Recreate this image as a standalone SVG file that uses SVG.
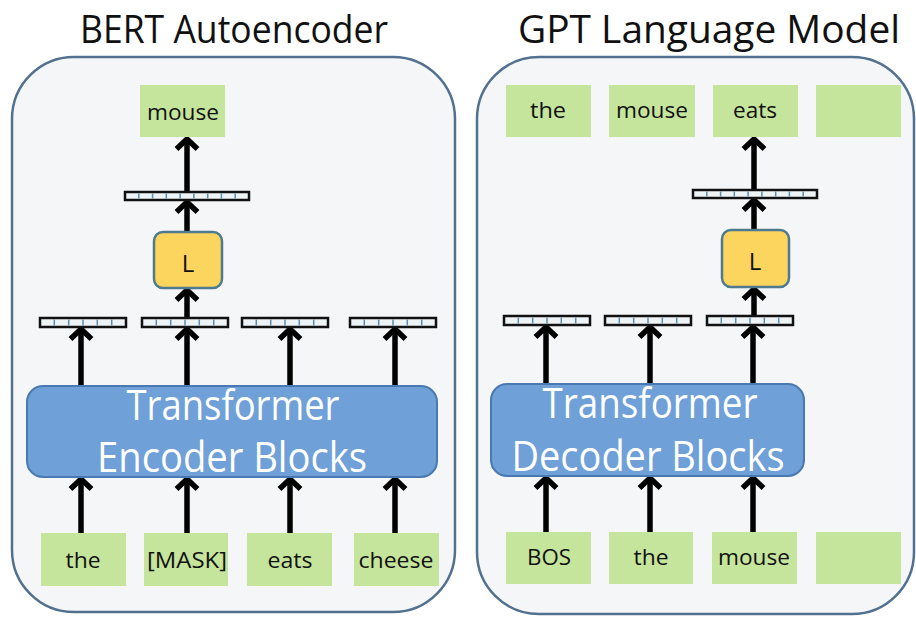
<svg xmlns="http://www.w3.org/2000/svg" xmlns:xlink="http://www.w3.org/1999/xlink" width="916" height="617" viewBox="0 0 916 617">
<style>
.panel{fill:#f5f6f7;stroke:#52708f;stroke-width:2.5}
.title{font-family:"Open Sans","Liberation Sans",sans-serif;font-size:38px;fill:#111}
.tok{fill:#c6e59c}
.lbl{font-family:"Open Sans","Liberation Sans",sans-serif;font-size:22px;fill:#111;text-anchor:middle}
.tf{fill:#6fa0d8;stroke:#4a78b0;stroke-width:2}
.tft{font-family:"Open Sans","Liberation Sans",sans-serif;font-size:42px;fill:#fff;text-anchor:middle}
.lin{fill:#fcd55f;stroke:#4d7a8f;stroke-width:2.5}
.vec{fill:#eef3f6;stroke:#111;stroke-width:2.5}
.div{stroke:#5a8db0;stroke-width:1.5}
.arr{stroke:#000;stroke-width:5.5;fill:none;marker-end:url(#head)}
</style>
<defs>
<marker id="head" markerUnits="userSpaceOnUse" markerWidth="30" markerHeight="30" viewBox="-15 -15 30 30" refX="0" refY="0" orient="auto" overflow="visible">
<path d="M -10 -10.5 L 0 0 L -10 10.5" fill="none" stroke="#000" stroke-width="5.5"/>
</marker>
<g id="vec6">
<rect class="vec" x="0" y="0" width="86" height="9"/>
<path class="div" d="M14.3 1.5V7.5M28.7 1.5V7.5M43 1.5V7.5M57.3 1.5V7.5M71.7 1.5V7.5"/>
</g>
<g id="vec9">
<rect class="vec" x="0" y="0" width="124" height="8"/>
<path class="div" d="M13.8 1.5V6.5M27.6 1.5V6.5M41.3 1.5V6.5M55.1 1.5V6.5M68.9 1.5V6.5M82.7 1.5V6.5M96.4 1.5V6.5M110.2 1.5V6.5"/>
</g>
</defs>
<rect width="916" height="617" fill="#fff"/>

<g id="bert-panel">
<rect class="panel" x="12" y="57" width="443" height="555" rx="62"/>
<text class="title" x="234" y="43" text-anchor="middle" textLength="308" lengthAdjust="spacingAndGlyphs">BERT Autoencoder</text>
</g>
<g id="gpt-panel">
<rect class="panel" x="477" y="57" width="437" height="557" rx="62"/>
<text class="title" x="709" y="43" text-anchor="middle" textLength="382" lengthAdjust="spacingAndGlyphs">GPT Language Model</text>
</g>

<g id="connectors">
<path class="arr" d="M81 533V479"/>
<path class="arr" d="M187 533V479"/>
<path class="arr" d="M290 533V479"/>
<path class="arr" d="M395 533V479"/>
<path class="arr" d="M81 386V329"/>
<path class="arr" d="M187 386V329"/>
<path class="arr" d="M290 386V329"/>
<path class="arr" d="M395 386V329"/>
<path class="arr" d="M187 318V290"/>
<path class="arr" d="M187 232V202"/>
<path class="arr" d="M187 192V139"/>
<path class="arr" d="M546 532V478"/>
<path class="arr" d="M650 532V478"/>
<path class="arr" d="M753 532V478"/>
<path class="arr" d="M546 384V327"/>
<path class="arr" d="M650 384V327"/>
<path class="arr" d="M753 384V327"/>
<path class="arr" d="M754 316V289"/>
<path class="arr" d="M754 230V200"/>
<path class="arr" d="M754 190V139"/>
</g>

<g id="bert-out-mouse"><rect class="tok" x="140" y="85" width="85" height="52"/><text class="lbl" x="183" y="120" textLength="72" lengthAdjust="spacingAndGlyphs">mouse</text></g>
<g id="bert-vec-top"><use xlink:href="#vec9" x="125" y="192"/></g>
<g id="bert-L"><rect class="lin" x="154" y="232" width="68" height="56" rx="9"/><text class="lbl" x="188" y="272" style="font-size:24px">L</text></g>
<g id="bert-vec-1"><use xlink:href="#vec6" x="40" y="318"/></g>
<g id="bert-vec-2"><use xlink:href="#vec6" x="142" y="318"/></g>
<g id="bert-vec-3"><use xlink:href="#vec6" x="242" y="318"/></g>
<g id="bert-vec-4"><use xlink:href="#vec6" x="350" y="318"/></g>
<g id="bert-encoder"><rect class="tf" x="27" y="386" width="410" height="91" rx="16"/>
<text class="tft" x="233" y="420" textLength="213" lengthAdjust="spacingAndGlyphs">Transformer</text>
<text class="tft" x="232" y="472" textLength="270" lengthAdjust="spacingAndGlyphs">Encoder Blocks</text></g>
<g id="bert-in-the"><rect class="tok" x="41" y="533" width="85" height="53"/><text class="lbl" x="83" y="568" textLength="35" lengthAdjust="spacingAndGlyphs">the</text></g>
<g id="bert-in-mask"><rect class="tok" x="144" y="533" width="84" height="53"/><text class="lbl" x="187" y="568" textLength="80" lengthAdjust="spacingAndGlyphs">[MASK]</text></g>
<g id="bert-in-eats"><rect class="tok" x="247" y="533" width="85" height="53"/><text class="lbl" x="290" y="568" textLength="45" lengthAdjust="spacingAndGlyphs">eats</text></g>
<g id="bert-in-cheese"><rect class="tok" x="354" y="533" width="85" height="53"/><text class="lbl" x="396" y="568" textLength="75" lengthAdjust="spacingAndGlyphs">cheese</text></g>

<g id="gpt-out-the"><rect class="tok" x="506" y="85" width="85" height="52"/><text class="lbl" x="548" y="118" textLength="36" lengthAdjust="spacingAndGlyphs">the</text></g>
<g id="gpt-out-mouse"><rect class="tok" x="609" y="85" width="86" height="52"/><text class="lbl" x="652" y="118" textLength="72" lengthAdjust="spacingAndGlyphs">mouse</text></g>
<g id="gpt-out-eats"><rect class="tok" x="713" y="85" width="85" height="52"/><text class="lbl" x="755" y="118" textLength="44" lengthAdjust="spacingAndGlyphs">eats</text></g>
<g id="gpt-out-empty"><rect class="tok" x="816" y="85" width="85" height="52"/></g>
<g id="gpt-vec-top"><use xlink:href="#vec9" x="693" y="190"/></g>
<g id="gpt-L"><rect class="lin" x="722" y="230" width="67" height="57" rx="9"/><text class="lbl" x="755" y="270" style="font-size:24px">L</text></g>
<g id="gpt-vec-1"><use xlink:href="#vec6" x="504" y="316"/></g>
<g id="gpt-vec-2"><use xlink:href="#vec6" x="605" y="316"/></g>
<g id="gpt-vec-3"><use xlink:href="#vec6" x="707" y="316"/></g>
<g id="gpt-decoder"><rect class="tf" x="491" y="384" width="313" height="92" rx="16"/>
<text class="tft" x="650" y="418" textLength="215" lengthAdjust="spacingAndGlyphs">Transformer</text>
<text class="tft" x="648" y="471" textLength="273" lengthAdjust="spacingAndGlyphs">Decoder Blocks</text></g>
<g id="gpt-in-bos"><rect class="tok" x="506" y="532" width="85" height="52"/><text class="lbl" x="549" y="565" textLength="44" lengthAdjust="spacingAndGlyphs">BOS</text></g>
<g id="gpt-in-the"><rect class="tok" x="609" y="532" width="84" height="52"/><text class="lbl" x="651" y="565" textLength="35" lengthAdjust="spacingAndGlyphs">the</text></g>
<g id="gpt-in-mouse"><rect class="tok" x="712" y="532" width="85" height="52"/><text class="lbl" x="754" y="565" textLength="72" lengthAdjust="spacingAndGlyphs">mouse</text></g>
<g id="gpt-in-empty"><rect class="tok" x="816" y="532" width="85" height="52"/></g>
</svg>
